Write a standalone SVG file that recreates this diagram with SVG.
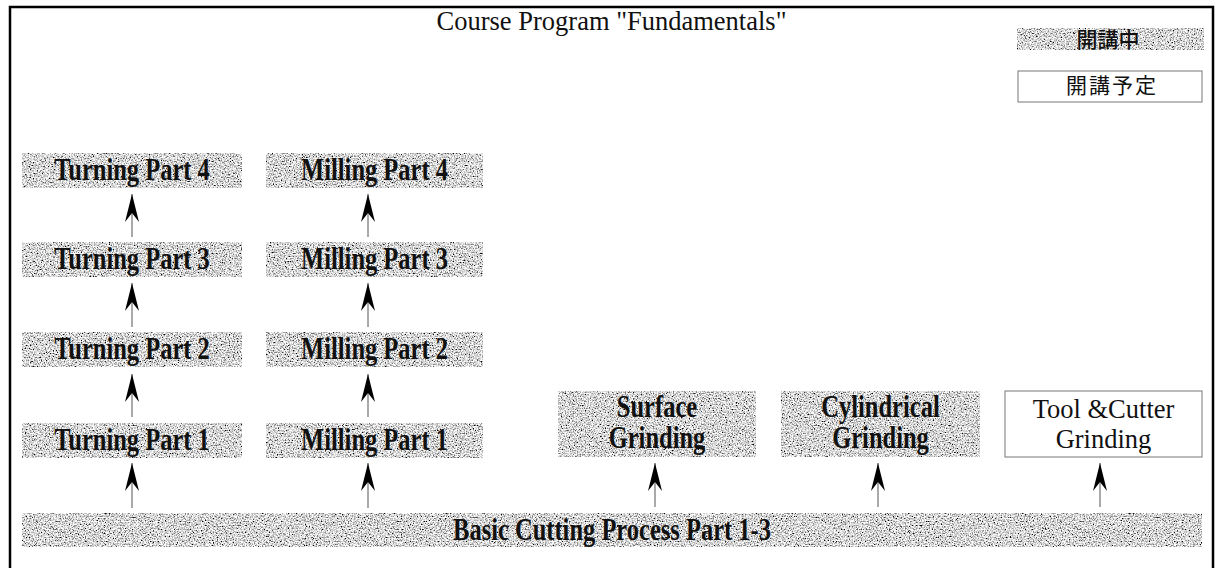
<svg xmlns="http://www.w3.org/2000/svg" width="1216" height="568" viewBox="0 0 1216 568">
<style>
.frame{fill:none;stroke:#000;stroke-width:2.5}
.shaded{fill:#b4b4b4;stroke:#333;stroke-width:1;filter:url(#grain)}
.plain{fill:#fff;stroke:#777;stroke-width:1}
.bold{font-family:"Liberation Serif","Times New Roman",serif;font-weight:bold;font-size:24.5px;fill:#111;text-anchor:middle}
.reg{font-family:"Liberation Serif","Times New Roman",serif;font-size:26.5px;fill:#111;text-anchor:middle}
.cjk{font-family:"Noto Sans CJK JP","Noto Sans CJK SC",sans-serif;fill:#111;text-anchor:middle}
.conn{stroke:#555;stroke-width:1;fill:none;marker-end:url(#head)}
</style>
<defs>
<filter id="grain" x="0" y="0" width="100%" height="100%">
<feTurbulence type="fractalNoise" baseFrequency="0.75" numOctaves="2" seed="7" result="n"/>
<feColorMatrix in="n" type="matrix" values="2.6 0 0 0 -0.62  2.6 0 0 0 -0.62  2.6 0 0 0 -0.62  0 0 0 0 1" result="g"/>
<feComposite in="g" in2="SourceGraphic" operator="in" result="tex"/>
<feMerge><feMergeNode in="tex"/></feMerge>
</filter>
<marker id="head" markerUnits="userSpaceOnUse" viewBox="-29 -8 30 16" refX="0" refY="0" markerWidth="30" markerHeight="16" orient="auto">
<path d="M0,0 L-28,-7 L-19,0 L-28,7 Z" fill="#000"/>
</marker>
</defs>
<rect x="0" y="0" width="1216" height="568" fill="#fff"/>
<rect class="frame" x="10" y="7" width="1203" height="580"/>
<text class="reg" x="611.5" y="30">Course Program "Fundamentals"</text>

<g id="legend-active">
<rect class="shaded" x="1017" y="28" width="187" height="22"/>
<text class="cjk" x="1108" y="47" font-size="21" font-weight="500">開講中</text>
</g>
<g id="legend-planned">
<rect class="plain" x="1018" y="71" width="184" height="31"/>
<text class="cjk" x="1112" y="93" font-size="21" letter-spacing="2">開講予定</text>
</g>

<g id="turning4"><rect class="shaded" x="22" y="153" width="220" height="35"/><text class="bold" transform="translate(132,180) scale(1,1.25)">Turning Part 4</text></g>
<g id="turning3"><rect class="shaded" x="22" y="242" width="220" height="35"/><text class="bold" transform="translate(132,269) scale(1,1.25)">Turning Part 3</text></g>
<g id="turning2"><rect class="shaded" x="22" y="332" width="220" height="35"/><text class="bold" transform="translate(132,359) scale(1,1.25)">Turning Part 2</text></g>
<g id="turning1"><rect class="shaded" x="22" y="423" width="220" height="35"/><text class="bold" transform="translate(132,450) scale(1,1.25)">Turning Part 1</text></g>

<g id="milling4"><rect class="shaded" x="266" y="153" width="217" height="35"/><text class="bold" transform="translate(374.5,180) scale(1,1.25)">Milling Part 4</text></g>
<g id="milling3"><rect class="shaded" x="266" y="242" width="217" height="35"/><text class="bold" transform="translate(374.5,269) scale(1,1.25)">Milling Part 3</text></g>
<g id="milling2"><rect class="shaded" x="266" y="332" width="217" height="35"/><text class="bold" transform="translate(374.5,359) scale(1,1.25)">Milling Part 2</text></g>
<g id="milling1"><rect class="shaded" x="266" y="423" width="217" height="35"/><text class="bold" transform="translate(374.5,450) scale(1,1.25)">Milling Part 1</text></g>

<g id="surface"><rect class="shaded" x="558" y="391" width="198" height="66"/><text class="bold" transform="translate(657,417) scale(1,1.25)">Surface</text><text class="bold" transform="translate(657,448) scale(1,1.25)">Grinding</text></g>
<g id="cylindrical"><rect class="shaded" x="781" y="391" width="199" height="66"/><text class="bold" transform="translate(880.5,417) scale(1,1.25)">Cylindrical</text><text class="bold" transform="translate(880.5,448) scale(1,1.25)">Grinding</text></g>
<g id="toolcutter"><rect class="plain" x="1005" y="391" width="197" height="66"/><text class="reg" x="1103.5" y="418">Tool &amp;Cutter</text><text class="reg" x="1103.5" y="448">Grinding</text></g>

<g id="basic"><rect class="shaded" x="22" y="513" width="1180" height="34"/><text class="bold" transform="translate(612,540) scale(1,1.25)">Basic Cutting Process Part 1-3</text></g>

<g id="connectors">
<path class="conn" d="M132,508 V463"/>
<path class="conn" d="M132,417 V374"/>
<path class="conn" d="M132,327 V283"/>
<path class="conn" d="M132,237 V194"/>
<path class="conn" d="M368,508 V463"/>
<path class="conn" d="M368,417 V374"/>
<path class="conn" d="M368,327 V283"/>
<path class="conn" d="M368,237 V194"/>
<path class="conn" d="M655,507 V463"/>
<path class="conn" d="M878,507 V463"/>
<path class="conn" d="M1100,507 V463"/>
</g>
</svg>
